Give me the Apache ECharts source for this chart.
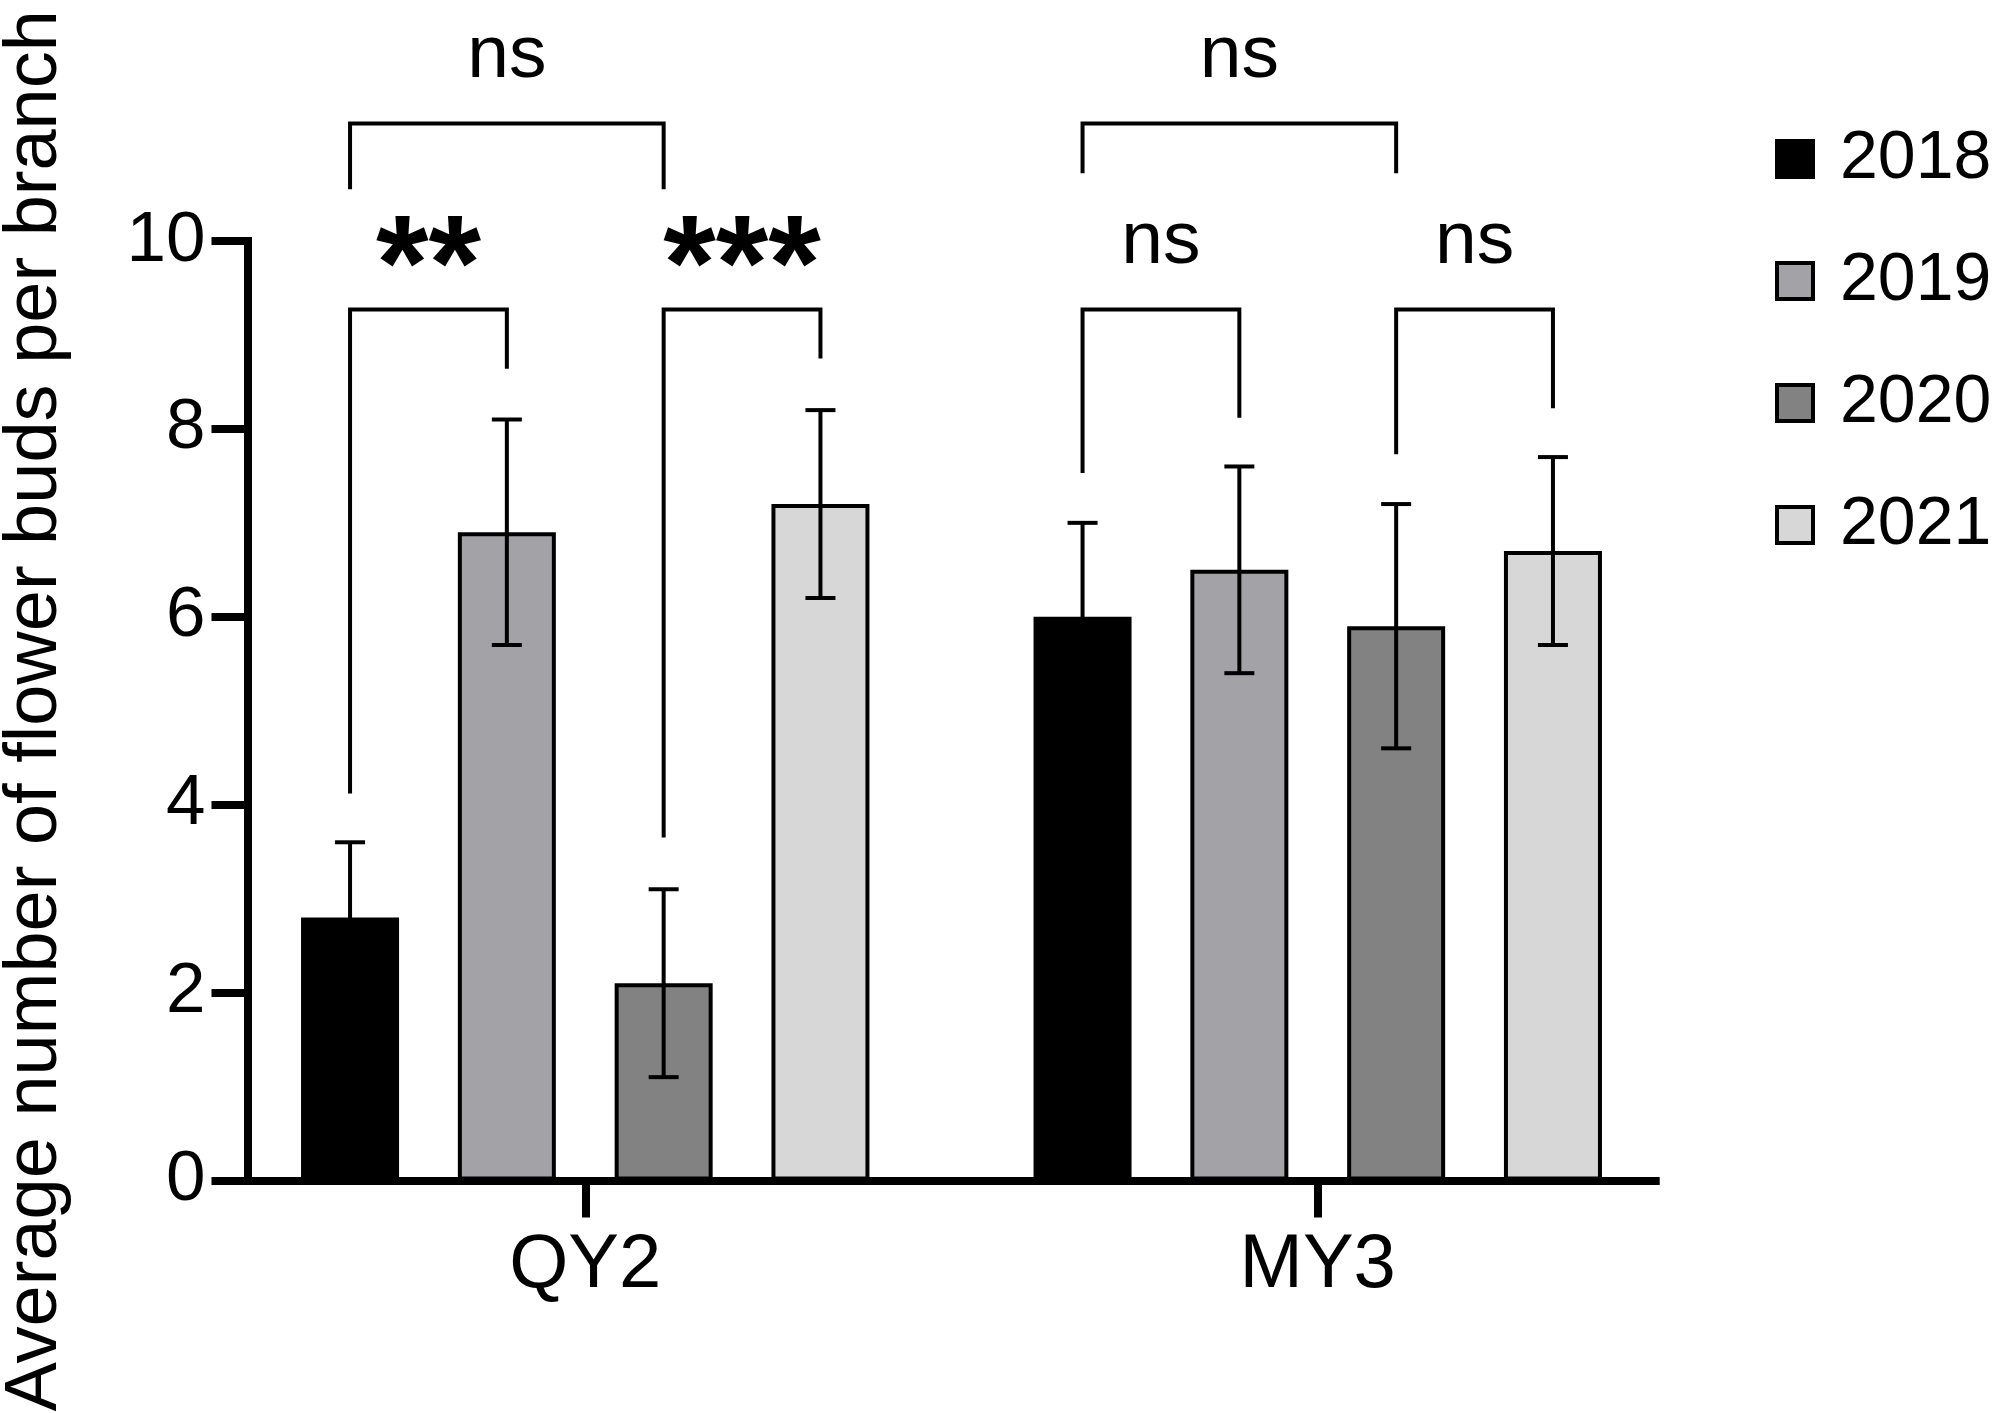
<!DOCTYPE html>
<html>
<head>
<meta charset="utf-8">
<script src="https://cdn.jsdelivr.net/npm/echarts@6/dist/echarts.min.js"></script>
<style>
html,body{margin:0;padding:0;background:#fff;}
#chart{width:1997px;height:1413px;}
</style>
</head>
<body>
<div id="chart"></div>
<script>
// ---- data ----
const CATEGORIES = ['QY2', 'MY3'];
const YEARS = ['2018', '2019', '2020', '2021'];
const MEANS_2018 = [2.8, 6.0];
const MEANS_2019 = [6.9, 6.5];
const MEANS_2020 = [2.1, 5.9];
const MEANS_2021 = [7.2, 6.7];
const ERR_2018 = [0.8, 1.0];
const ERR_2019 = [1.2, 1.1];
const ERR_2020 = [1.0, 1.3];
const ERR_2021 = [1.0, 1.0];
const Y_TICKS = [0, 2, 4, 6, 8, 10];
const Y_TITLE = 'Average number of flower buds per branch';

// significance brackets (group index, from bar, to bar, bracket level, left leg end, right leg end)
const BRACKET_GROUP = [0, 0, 0, 1, 1, 1];
const BRACKET_FROM = [0, 0, 2, 0, 0, 2];
const BRACKET_TO = [2, 1, 3, 2, 1, 3];
const BRACKET_LEVEL = [11.25, 9.27, 9.27, 11.25, 9.27, 9.27];
const BRACKET_LEFT_END = [10.55, 4.12, 3.65, 10.72, 7.53, 7.73];
const BRACKET_RIGHT_END = [10.55, 8.64, 8.75, 10.72, 8.12, 8.22];
const BRACKET_LABELS = ['ns', '**', '***', 'ns', 'ns', 'ns'];

// ---- style ----
const FONT = "'Liberation Sans', Arial, Helvetica, sans-serif";
const COLORS = ['#000000', '#a3a2a7', '#828282', '#d7d7d7'];
const BAR_W = 98;
const BAR_GAP = 0.6;
const CAP_W = 30;
const LINE_W = 4;

const MEANS = [MEANS_2018, MEANS_2019, MEANS_2020, MEANS_2021];
const ERRS = [ERR_2018, ERR_2019, ERR_2020, ERR_2021];

function barX(api, g, j, v) {
  const c = api.coord([g, v]);
  return [c[0] + (j - 1.5) * BAR_W * (1 + BAR_GAP), c[1]];
}

const errData = [];
for (let j = 0; j < YEARS.length; j++) {
  for (let g = 0; g < CATEGORIES.length; g++) {
    errData.push([g, j, MEANS[j][g], ERRS[j][g]]);
  }
}
const bracketData = BRACKET_GROUP.map((g, i) => [g, BRACKET_FROM[i], BRACKET_TO[i], BRACKET_LEVEL[i], BRACKET_LEFT_END[i], BRACKET_RIGHT_END[i]]);

const lineStyle = { stroke: '#000', lineWidth: LINE_W, lineCap: 'butt' };

const series = YEARS.map((y, j) => ({
  name: y,
  type: 'bar',
  xAxisIndex: 0,
  yAxisIndex: 0,
  data: MEANS[j],
  barWidth: BAR_W,
  barGap: (BAR_GAP * 100) + '%',
  itemStyle: { color: COLORS[j], borderColor: '#000', borderWidth: 4 },
  emphasis: { disabled: true },
  z: 2
}));

series.push({
  type: 'custom',
  xAxisIndex: 0,
  yAxisIndex: 0,
  data: errData,
  encode: { x: 0, y: 2 },
  clip: false,
  z: 5,
  silent: true,
  renderItem: function (params, api) {
    const g = api.value(0), j = api.value(1), m = api.value(2), s = api.value(3);
    const x = barX(api, g, j, m)[0];
    const top = api.coord([g, m + s])[1];
    const bot = api.coord([g, m - s])[1];
    const hw = CAP_W / 2;
    return {
      type: 'group',
      children: [
        { type: 'line', shape: { x1: x, y1: top, x2: x, y2: bot }, style: lineStyle },
        { type: 'line', shape: { x1: x - hw, y1: top, x2: x + hw, y2: top }, style: lineStyle },
        { type: 'line', shape: { x1: x - hw, y1: bot, x2: x + hw, y2: bot }, style: lineStyle }
      ]
    };
  }
});

series.push({
  type: 'custom',
  xAxisIndex: 0,
  yAxisIndex: 0,
  data: bracketData,
  encode: { x: 0, y: 3 },
  clip: false,
  z: 5,
  silent: true,
  renderItem: function (params, api) {
    const g = api.value(0), a = api.value(1), b = api.value(2);
    const lvl = api.value(3), la = api.value(4), lb = api.value(5);
    const xa = barX(api, g, a, lvl)[0];
    const xb = barX(api, g, b, lvl)[0];
    const yTop = api.coord([g, lvl])[1];
    const yA = api.coord([g, la])[1];
    const yB = api.coord([g, lb])[1];
    const label = BRACKET_LABELS[params.dataIndex];
    const star = label.indexOf('*') >= 0;
    return {
      type: 'group',
      children: [
        { type: 'polyline', shape: { points: [[xa, yA], [xa, yTop], [xb, yTop], [xb, yB]] },
          style: { stroke: '#000', lineWidth: LINE_W, fill: null, lineJoin: 'miter' } },
        { type: 'text', style: {
            text: label, x: (xa + xb) / 2, y: yTop - (star ? 38 : 67),
            align: 'center', verticalAlign: 'middle',
            fontSize: star ? 135 : 75, fontWeight: star ? 'bold' : 'normal',
            fontFamily: FONT, fill: '#000' } }
      ]
    };
  }
});

const chart = echarts.init(document.getElementById('chart'));
chart.setOption({
  backgroundColor: '#fff',
  animation: false,
  textStyle: { fontFamily: FONT, color: '#000' },
  legend: {
    orient: 'vertical',
    left: 1775,
    top: 125,
    padding: 0,
    itemWidth: 36,
    itemHeight: 36,
    itemGap: 54,
    icon: 'rect',
    data: YEARS,
    selectedMode: false,
    itemStyle: { borderColor: '#000', borderWidth: 4 },
    textStyle: { fontSize: 68, color: '#000', fontFamily: FONT, padding: [0, 0, 0, 22] }
  },
  grid: [
    { left: 219, right: 313, top: 241, bottom: 232.5, containLabel: false, outerBoundsMode: 'none' },
    { left: 247.5, right: 341.3, top: 241, bottom: 232.5, containLabel: false, outerBoundsMode: 'none' }
  ],
  xAxis: [
    {
      type: 'category', gridIndex: 0, data: CATEGORIES,
      axisLine: { show: false },
      axisTick: { show: true, alignWithLabel: true, length: 37, lineStyle: { color: '#000', width: 8 } },
      axisLabel: { fontSize: 76, color: '#000', margin: 48, fontFamily: FONT },
      splitLine: { show: false }
    },
    {
      type: 'value', gridIndex: 1, min: 0, max: 1,
      axisLine: { show: true, lineStyle: { color: '#000', width: 8, cap: 'square' } },
      axisTick: { show: false }, axisLabel: { show: false }, splitLine: { show: false }
    }
  ],
  yAxis: [
    { type: 'value', gridIndex: 0, min: 0, max: 10, show: false },
    {
      type: 'value', gridIndex: 1, min: Y_TICKS[0], max: Y_TICKS[Y_TICKS.length - 1], interval: Y_TICKS[1] - Y_TICKS[0],
      name: Y_TITLE, nameLocation: 'middle', nameGap: 175,
      nameTextStyle: { fontSize: 74, color: '#000', fontFamily: FONT },
      axisLine: { show: true, lineStyle: { color: '#000', width: 8, cap: 'square' } },
      axisTick: { show: true, length: 36, lineStyle: { color: '#000', width: 8 } },
      axisLabel: { fontSize: 71, color: '#000', margin: 42, fontFamily: FONT },
      splitLine: { show: false }
    }
  ],
  series: series
});
</script>
</body>
</html>
